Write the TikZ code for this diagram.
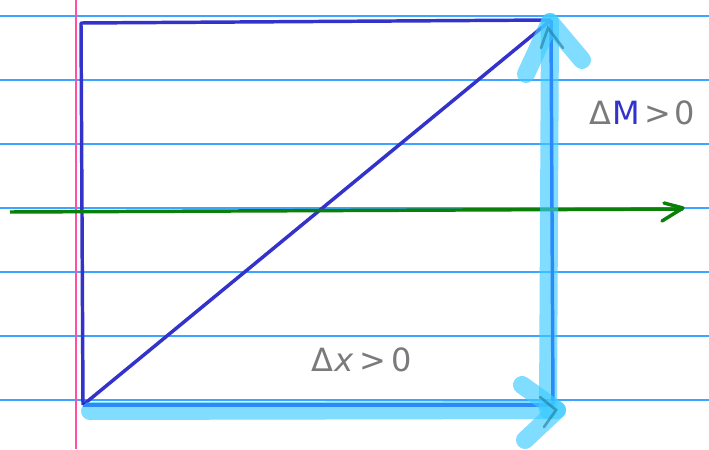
\documentclass[tikz,border=0pt]{standalone}
\usepackage{fontspec}
\setmainfont{DejaVu Sans}
\definecolor{ruled}{HTML}{3DA5FF}
\definecolor{margin}{HTML}{FF4FA8}
\definecolor{ink}{HTML}{3333CC}
\definecolor{axisgreen}{HTML}{0A800A}
\definecolor{hl}{HTML}{3CCBFF}
\definecolor{pencil}{HTML}{7A7A7A}
\tikzset{
  ruleline/.style={ruled, line width=1.2pt},
  inkline/.style={ink, line width=2.6pt},
  highlight/.style={hl, opacity=0.65, line width=13.5pt, line cap=round, line join=round},
  hlthin/.style={hl!60!black, opacity=0.6, line width=2pt, line cap=round},
  handtext/.style={pencil, font=\fontsize{24}{24}\selectfont, inner sep=0pt}
}
\begin{document}
\begin{tikzpicture}[x=0.75pt,y=-0.75pt]
\useasboundingbox (0,0) rectangle (709,449);
\fill[white] (0,0) rectangle (709,449);
% ruled lines
\foreach \yy in {16,80,144,208,272,336,400}
  \draw[ruleline] (0,\yy) -- (709,\yy);
\draw[margin, line width=1.5pt] (76,0) -- (76,449);
% square corners
\coordinate (tl) at (81,23);
\coordinate (tr) at (551,20);
\coordinate (bl) at (83,405);
\coordinate (br) at (553,405);
\draw[inkline, line join=round] (bl) -- (tl) -- (tr);
\draw[inkline] (bl) -- (tr);
\draw[inkline, blue!70!ink] (tr) -- (br);
\draw[inkline, blue!70!ink] (bl) -- (br);
% green axis
\coordinate (ga) at (10,212);
\coordinate (gb) at (683,209);
\draw[axisgreen, line width=2.6pt] (ga) -- (gb);
\draw[axisgreen, line width=2.6pt, line cap=round, line join=round] (664,203) -- (683,208) -- (662,221);
% highlighter arrows
\coordinate (h0) at (90,411);
\coordinate (h1) at (557,410);
\coordinate (v0) at (548,410);
\coordinate (v1) at (550,22);
\draw[highlight] (h0) -- (h1);
\draw[highlight] (522,385) -- (h1) -- (525,440);
\draw[highlight] (v0) -- (v1);
\draw[highlight] (526,74) -- (v1) -- (582,60);
\draw[hlthin] (540,397) -- (556,410) -- (544,427);
\draw[hlthin] (541,48) -- (548,28) -- (563,48);
% labels
\node[handtext, anchor=west] (dm) at (589,113) {Δ\kern1pt\textcolor{ink}{M}\kern3pt>\kern3pt0};
\node[handtext, anchor=west] (dx) at (311,360) {Δ\kern1pt\textit{x}\kern4pt>\kern4pt0};
\end{tikzpicture}
\end{document}
